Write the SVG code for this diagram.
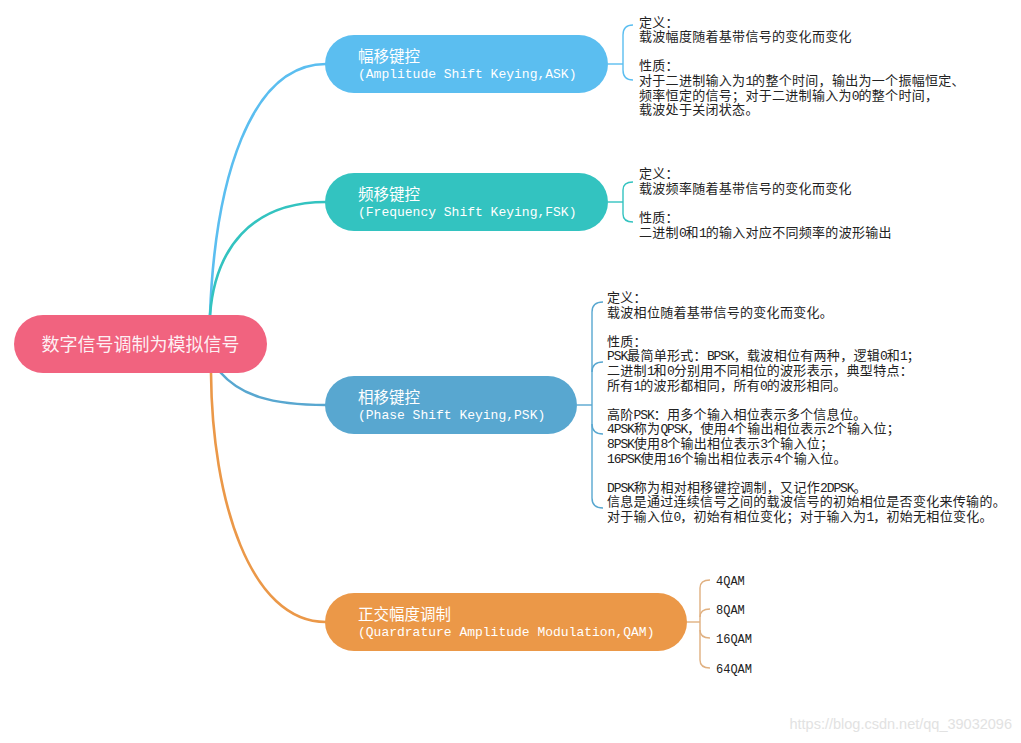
<svg xmlns="http://www.w3.org/2000/svg" width="1021" height="743" viewBox="0 0 1021 743">
<style>
.cjk{font-family:"Noto Sans CJK SC",sans-serif}
.t1{font-family:"Noto Sans CJK SC",sans-serif;font-size:15.5px;fill:#fff}
.t2{font-family:"Liberation Mono","Noto Sans CJK SC",monospace;font-size:13px;fill:#fff}
.d{font-family:"Liberation Mono","Noto Sans CJK SC",monospace;font-size:13px;fill:#222;letter-spacing:0.3px}
.a{letter-spacing:-1.1px}
.q{font-family:"Liberation Mono",monospace;font-size:12px;fill:#222}
.main{fill:none;stroke-width:2.6;stroke-linecap:round}
.br{fill:none;stroke-width:1.4}
</style>
<rect width="1021" height="743" fill="#fff"/>
<g id="connectors">
  <path class="main" stroke="#5bbef0" d="M210,315 C215,180 250,64 326,64"/>
  <path class="main" stroke="#33c3c0" d="M210,315 C215,250 250,202 326,202"/>
  <path class="main" stroke="#58a7d0" d="M220,372 C240,395 270,405 326,405"/>
  <path class="main" stroke="#eb9848" d="M211,373 C212,500 250,622 326,622"/>
  <g stroke="#5bbef0" class="br">
    <path d="M608,64 H623"/>
    <path d="M633,25 Q623,25 623,35 V70 Q623,80 633,80"/>
  </g>
  <g stroke="#33c3c0" class="br">
    <path d="M608,202 H623"/>
    <path d="M633,182 Q623,182 623,190 V214 Q623,222 633,222"/>
  </g>
  <g stroke="#58a7d0" class="br">
    <path d="M577,405 H592"/>
    <path d="M603,302 Q592,302 592,312 V498 Q592,508 603,508"/>
    <path d="M592,372 Q592,362 603,362"/>
    <path d="M592,424 Q592,434 603,434"/>
  </g>
  <g stroke="#e0b080" class="br">
    <path d="M687,622 H700"/>
    <path d="M710,580 Q700,580 700,588 V660 Q700,668 710,668"/>
    <path d="M700,617 Q700,609 710,609"/>
    <path d="M700,630 Q700,638 710,638"/>
  </g>
</g>
<g id="root">
  <rect x="14" y="315" width="253" height="58" rx="29" fill="#f1637f"/>
  <text x="140.5" y="351" text-anchor="middle" class="cjk" font-size="18" fill="#fff" fill-opacity="0.92">数字信号调制为模拟信号</text>
</g>
<g id="ask">
  <rect x="325" y="35" width="283" height="58" rx="29" fill="#5bbef0"/>
  <text x="358" y="61.5" class="t1">幅移键控</text>
  <text x="358" y="78" class="t2">(Amplitude Shift Keying,ASK)</text>
</g>
<g id="ask-detail" class="d">
  <text x="639" y="26.5">定义：</text>
  <text x="639" y="41">载波幅度随着基带信号的变化而变化</text>
  <text x="639" y="70">性质：</text>
  <text x="639" y="85">对于二进制输入为<tspan class="a">1</tspan>的整个时间，输出为一个振幅恒定、</text>
  <text x="639" y="99.5">频率恒定的信号；对于二进制输入为<tspan class="a">0</tspan>的整个时间，</text>
  <text x="639" y="114">载波处于关闭状态。</text>
</g>
<g id="fsk">
  <rect x="325" y="173" width="283" height="58" rx="29" fill="#33c3c0"/>
  <text x="358" y="199.5" class="t1">频移键控</text>
  <text x="358" y="216" class="t2">(Frequency Shift Keying,FSK)</text>
</g>
<g id="fsk-detail" class="d">
  <text x="639" y="178">定义：</text>
  <text x="639" y="193">载波频率随着基带信号的变化而变化</text>
  <text x="639" y="222">性质：</text>
  <text x="639" y="237">二进制<tspan class="a">0</tspan>和<tspan class="a">1</tspan>的输入对应不同频率的波形输出</text>
</g>
<g id="psk">
  <rect x="325" y="376" width="252" height="58" rx="29" fill="#58a7d0"/>
  <text x="358" y="402.5" class="t1">相移键控</text>
  <text x="358" y="419" class="t2">(Phase Shift Keying,PSK)</text>
</g>
<g id="psk-detail" class="d">
  <text x="607" y="302">定义：</text>
  <text x="607" y="316.6">载波相位随着基带信号的变化而变化。</text>
  <text x="607" y="345.8">性质：</text>
  <text x="607" y="360.4"><tspan class="a">PSK</tspan>最简单形式：<tspan class="a">BPSK</tspan>，载波相位有两种，逻辑<tspan class="a">0</tspan>和<tspan class="a">1</tspan>；</text>
  <text x="607" y="375">二进制<tspan class="a">1</tspan>和<tspan class="a">0</tspan>分别用不同相位的波形表示，典型特点：</text>
  <text x="607" y="389.6">所有<tspan class="a">1</tspan>的波形都相同，所有<tspan class="a">0</tspan>的波形相同。</text>
  <text x="607" y="418.8">高阶<tspan class="a">PSK</tspan>：用多个输入相位表示多个信息位。</text>
  <text x="607" y="433.4"><tspan class="a">4PSK</tspan>称为<tspan class="a">QPSK</tspan>，使用<tspan class="a">4</tspan>个输出相位表示<tspan class="a">2</tspan>个输入位；</text>
  <text x="607" y="448"><tspan class="a">8PSK</tspan>使用<tspan class="a">8</tspan>个输出相位表示<tspan class="a">3</tspan>个输入位；</text>
  <text x="607" y="462.6"><tspan class="a">16PSK</tspan>使用<tspan class="a">16</tspan>个输出相位表示<tspan class="a">4</tspan>个输入位。</text>
  <text x="607" y="491.8"><tspan class="a">DPSK</tspan>称为相对相移键控调制，又记作<tspan class="a">2DPSK</tspan>。</text>
  <text x="607" y="506.4">信息是通过连续信号之间的载波信号的初始相位是否变化来传输的。</text>
  <text x="607" y="521">对于输入位<tspan class="a">0</tspan>，初始有相位变化；对于输入为<tspan class="a">1</tspan>，初始无相位变化。</text>
</g>
<g id="qam">
  <rect x="325" y="593" width="362" height="58" rx="29" fill="#eb9848"/>
  <text x="358" y="619.5" class="t1">正交幅度调制</text>
  <text x="358" y="636" class="t2">(Quardrature Amplitude Modulation,QAM)</text>
</g>
<g id="qam-4"><text x="716" y="584.5" class="q">4QAM</text></g>
<g id="qam-8"><text x="716" y="613.5" class="q">8QAM</text></g>
<g id="qam-16"><text x="716" y="642.5" class="q">16QAM</text></g>
<g id="qam-64"><text x="716" y="672.5" class="q">64QAM</text></g>
<text x="1012" y="729" text-anchor="end" font-family="Liberation Sans, sans-serif" font-size="14.5" fill="#e2e2e2">https://blog.csdn.net/qq_39032096</text>
</svg>
